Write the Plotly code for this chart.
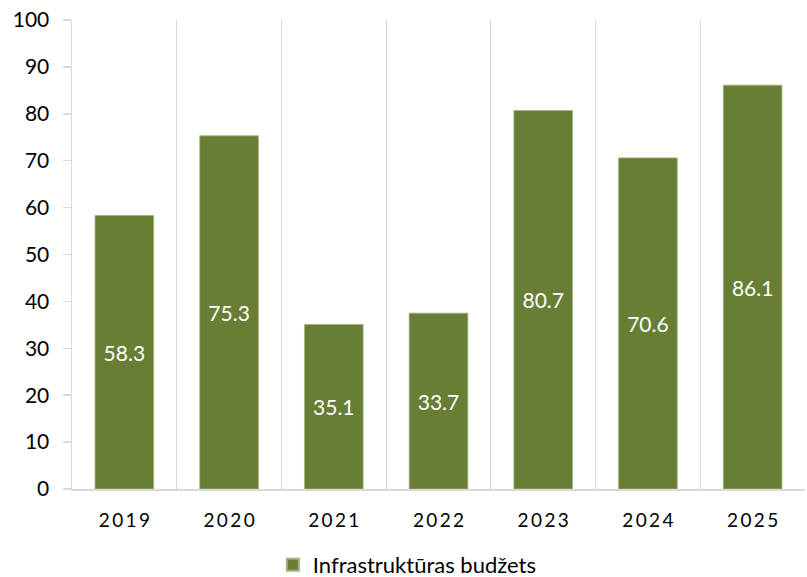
import plotly.graph_objects as go

years = ["2019", "2020", "2021", "2022", "2023", "2024", "2025"]
values = [58.3, 75.3, 35.1, 37.5, 80.7, 70.6, 86.1]
labels = ["58.3", "75.3", "35.1", "33.7", "80.7", "70.6", "86.1"]
series_name = "Infrastruktūras budžets"
year_ticktext = ["\u2009".join(y) for y in years]
y_ticks = list(range(0, 101, 10))

FONT = "Lato, Noto Sans, sans-serif"
fig = go.Figure()
fig.add_trace(go.Bar(
    x=years, y=values, name=series_name,
    text=labels, textposition="inside", insidetextanchor="middle",
    textfont=dict(color="white", size=21, family=FONT),
    marker=dict(color="#687E35", line=dict(color="#9fb27a", width=0.8)),
    width=0.56, showlegend=True,
))
fig.update_layout(
    width=807, height=577,
    margin=dict(l=72, r=2, t=20, b=88, autoexpand=False),
    plot_bgcolor="white", paper_bgcolor="white",
    font=dict(family=FONT, color="#000000"),
    legend=dict(orientation="h", x=0.274, xanchor="left", y=-0.117, yanchor="top",
                font=dict(size=22, family=FONT), itemsizing="constant"),
    xaxis=dict(
        type="category", tickmode="array", tickvals=years, ticktext=year_ticktext,
        tickson="boundaries", showgrid=True, gridcolor="#d9d9d9", gridwidth=1,
        showline=True, linecolor="#d9d9d9", linewidth=1.5, automargin=False,
        ticks="", tickfont=dict(size=19, family=FONT), ticklabelstandoff=14,
    ),
    yaxis=dict(
        range=[0, 100], tickmode="array", tickvals=y_ticks,
        showgrid=False, zeroline=False, automargin=False,
        showline=True, linecolor="#d9d9d9", linewidth=1.5,
        ticks="outside", ticklen=8, tickcolor="#d9d9d9", tickwidth=1.5,
        tickfont=dict(size=21, family=FONT), ticklabelstandoff=9,
        ticklabeloverflow="allow",
    ),
)
fig.write_html("out.html",
               config={"displayModeBar": False, "staticPlot": True},
               post_script="document.body.style.margin='0';document.body.style.overflow='hidden';")
